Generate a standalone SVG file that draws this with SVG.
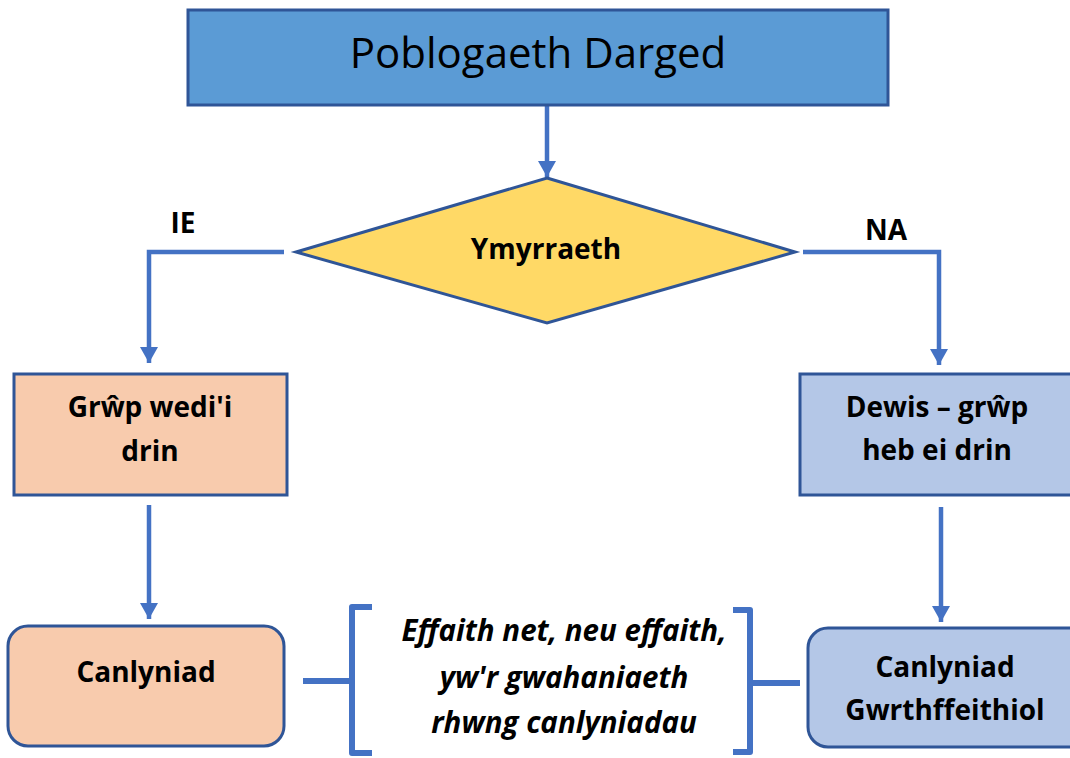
<svg xmlns="http://www.w3.org/2000/svg" width="1070" height="758" viewBox="0 0 1070 758">
<defs>
<marker id="ah" markerUnits="userSpaceOnUse" markerWidth="18" markerHeight="18" refX="16" refY="9" orient="auto">
<path d="M0,0 L16,9 L0,18 z" fill="#4472C4"/>
</marker>
<style>
.conn{fill:none;stroke:#4472C4;stroke-width:4.5}
.brk{fill:none;stroke:#4472C4;stroke-width:6;stroke-linejoin:round}
.node{stroke:#2F5597;stroke-width:3}
.lbl{font-family:"Open Sans","Liberation Sans",sans-serif;font-weight:bold;font-size:28px;fill:#000;text-anchor:middle}
.title{font-family:"Open Sans","Liberation Sans",sans-serif;font-size:42px;fill:#000;text-anchor:middle}
.note{font-family:"Open Sans","Liberation Sans",sans-serif;font-weight:bold;font-style:italic;font-size:29.5px;fill:#000;text-anchor:middle}
</style>
</defs>
<rect width="1070" height="758" fill="#fff"/>
<g id="connectors">
<path class="conn" d="M547,106 V177" marker-end="url(#ah)"/>
<path class="conn" d="M284,252 H149 V363" marker-end="url(#ah)"/>
<path class="conn" d="M803,252 H939 V365" marker-end="url(#ah)"/>
<path class="conn" d="M149,505 V619" marker-end="url(#ah)"/>
<path class="conn" d="M941,507 V622" marker-end="url(#ah)"/>
<path class="brk" d="M303,681 H352"/>
<path class="brk" d="M372,607 H352 V753 H372"/>
<path class="brk" d="M733,610 H750 V752 H733"/>
<path class="brk" d="M750,683 H800"/>
</g>
<g id="target-population">
<rect class="node" x="188" y="10" width="700" height="95" fill="#5B9BD5" stroke="#41719C"/>
<text class="title" x="538" y="68">Poblogaeth Darged</text>
</g>
<g id="intervention">
<polygon class="node" points="547,178 795,252 547,323 296,252" fill="#FFD966"/>
<text class="lbl" x="546" y="259" font-size="30.5">Ymyrraeth</text>
</g>
<g id="label-ie"><text class="lbl" x="183" y="233">IE</text></g>
<g id="label-na"><text class="lbl" x="886" y="240">NA</text></g>
<g id="treated-group">
<rect class="node" x="14" y="374" width="273" height="121" fill="#F8CBAD"/>
<text class="lbl" x="150" y="417">Grŵp wedi'i</text>
<text class="lbl" x="150" y="461">drin</text>
</g>
<g id="control-group">
<rect class="node" x="800" y="374" width="290" height="121" fill="#B4C7E7"/>
<text class="lbl" x="937" y="417">Dewis – grŵp</text>
<text class="lbl" x="937" y="460">heb ei drin</text>
</g>
<g id="outcome">
<rect class="node" x="8" y="626" width="276" height="120" rx="20" fill="#F8CBAD"/>
<text class="lbl" x="146" y="682">Canlyniad</text>
</g>
<g id="counterfactual">
<rect class="node" x="808" y="628" width="290" height="119" rx="20" fill="#B4C7E7"/>
<text class="lbl" x="945" y="677">Canlyniad</text>
<text class="lbl" x="945" y="720">Gwrthffeithiol</text>
</g>
<g id="effect-note">
<text class="note" x="564" y="641">Effaith net, neu effaith,</text>
<text class="note" x="564" y="688">yw'r gwahaniaeth</text>
<text class="note" x="564" y="733">rhwng canlyniadau</text>
</g>
</svg>
